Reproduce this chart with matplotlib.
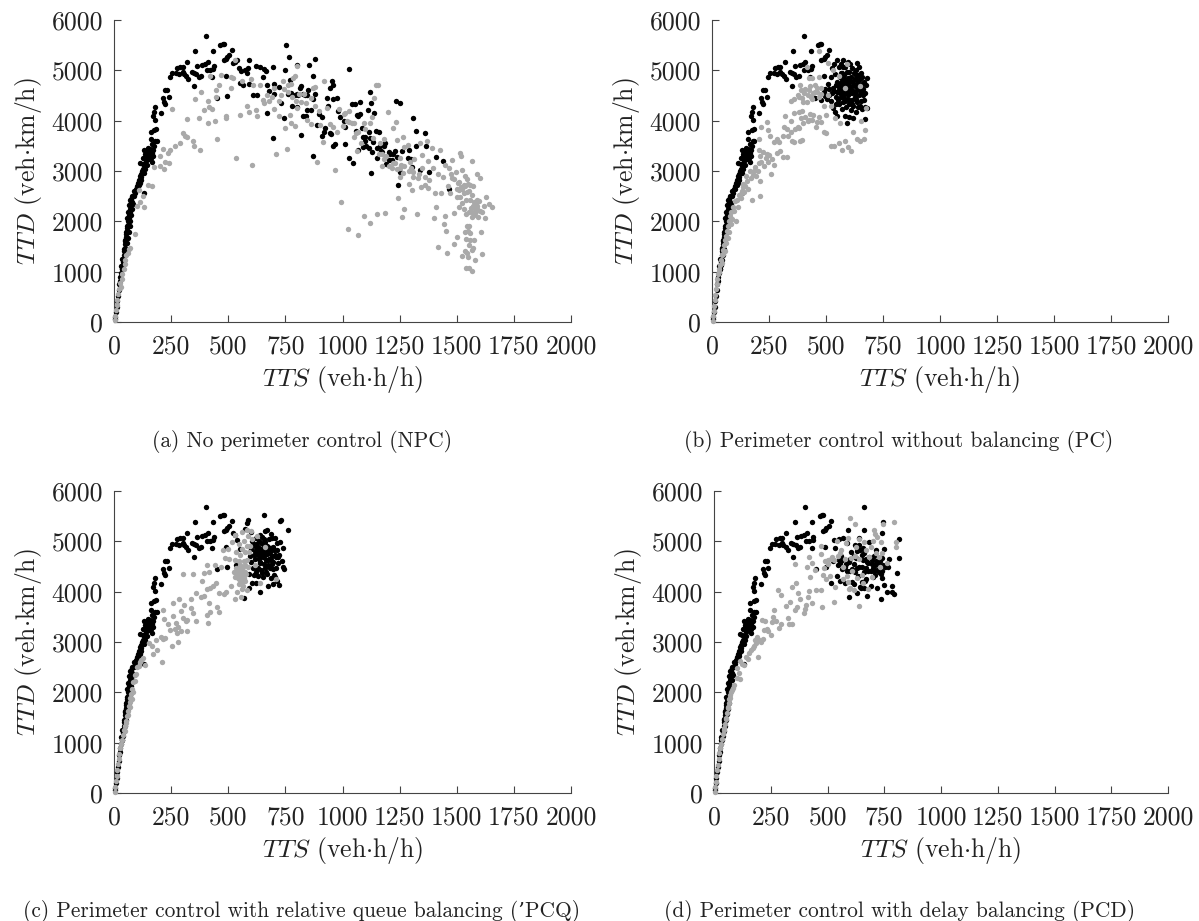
import numpy as np
import matplotlib
matplotlib.use("Agg")
import matplotlib.pyplot as plt

plt.rcParams["font.family"] = ["cmr10", "DejaVu Serif"]
plt.rcParams["mathtext.fontset"] = "cm"
plt.rcParams["axes.unicode_minus"] = False

XTICKS = [0, 250, 500, 750, 1000, 1250, 1500, 1750, 2000]
YTICKS = [0, 1000, 2000, 3000, 4000, 5000, 6000]
CAPTIONS = [
    "(a) No perimeter control (NPC)",
    "(b) Perimeter control without balancing (PC)",
    "(c) Perimeter control with relative queue balancing (\u2019PCQ)",
    "(d) Perimeter control with delay balancing (PCD)",
]

# black points shared by all four panels (the uncontrolled rising branch)
BASE_CURVE = [
    (3, 60), (5, 100), (8, 200), (11, 300), (14, 420), (17, 520), (20, 640), (23, 760), (25, 820), (28, 900),
    (30, 980), (33, 1050), (35, 1120), (38, 1200), (40, 1260), (42, 1340), (44, 1410), (46, 1480), (48, 1540),
    (50, 1610), (52, 1680), (54, 1750), (56, 1800), (58, 1870), (60, 1930), (62, 2000), (64, 2060), (66, 2120),
    (68, 2190), (70, 2250), (72, 2320), (74, 2380), (76, 2450), (80, 2500), (88, 2610), (95, 2640), (100, 2700),
    (105, 2760), (110, 2830), (113, 2900), (118, 2950), (122, 3000), (126, 3030), (115, 3150), (125, 3140),
    (133, 3120), (140, 3190), (128, 3260), (146, 3250), (150, 3300), (136, 3340), (142, 3400), (130, 3410),
    (155, 3340), (160, 3290), (165, 3360), (148, 3450), (158, 3440), (170, 3420), (172, 3300), (163, 3260),
    (168, 3530), (160, 3640), (178, 3590), (186, 3590), (175, 3500), (150, 3380), (138, 3300), (145, 3310),
    (152, 3420), (162, 3390), (120, 2880), (132, 2560), (108, 2730),
    (36, 1050), (40, 1130), (44, 1230), (48, 1330), (52, 1450), (56, 1560), (60, 1660), (64, 1780), (68, 1900),
    (72, 2000), (76, 2120), (80, 2240), (84, 2340), (32, 1120), (37, 1260), (42, 1450), (47, 1620), (51, 1780),
    (55, 1900), (59, 2060), (63, 2180), (67, 2320), (71, 2430), (78, 2380), (86, 2500), (92, 2560), (102, 2640),
    (112, 2760), (120, 2820), (130, 2960), (135, 3040), (143, 3120), (155, 3230), (165, 3180),
]
BASE_HUMP = [
    (403, 5690), (466, 5510), (475, 5520), (480, 5530), (356, 5390), (433, 5390), (515, 5400), (318, 5170),
    (410, 5170), (398, 5120), (385, 5110), (365, 5090), (437, 5080), (435, 5020), (405, 5010), (420, 5000),
    (290, 5060), (300, 5060), (275, 5050), (270, 4950), (285, 4930), (300, 4960), (305, 4930), (315, 4880),
    (325, 4820), (340, 4960), (350, 4950), (360, 4930), (370, 4870), (380, 4880), (350, 4690), (255, 4950),
    (245, 4860), (430, 4860), (490, 4880), (450, 4460), (495, 4490), (225, 4600), (232, 4600), (215, 4450),
    (240, 4470), (225, 4330), (220, 4380), (180, 4280), (175, 4170), (205, 4150), (170, 4090), (178, 4020),
    (185, 3830), (175, 3810), (160, 3780), (490, 5230), (480, 5200), (495, 5270), (505, 5310),
]

# panel (a) black points past the hump
NPC_BLACK = [
    (520, 5150), (530, 5170), (540, 5210), (545, 5040), (555, 4980), (575, 5010), (585, 5040), (590, 5210),
    (550, 4750), (565, 4700), (580, 4950), (590, 4720), (610, 4510), (625, 4500), (620, 5080), (640, 5060),
    (655, 5030), (665, 4990), (650, 4860), (670, 4700), (680, 4590), (700, 4530), (695, 5070), (700, 4720),
    (720, 4660), (730, 4360), (745, 4060), (695, 3650), (670, 4160), (750, 5000), (752, 5510), (765, 5260),
    (770, 4800), (775, 4550), (780, 4300), (800, 5110), (800, 4280), (805, 4500), (820, 3720), (825, 4090),
    (820, 4680), (840, 4090), (835, 4500), (850, 4600), (860, 4220), (855, 5100), (870, 4880), (870, 3290),
    (880, 5220), (880, 4520), (890, 3910), (895, 4130), (910, 4080), (920, 3770), (925, 3850), (930, 4450),
    (935, 4300), (945, 4640), (950, 3740), (960, 3490), (965, 3530), (955, 4790), (960, 4710), (975, 4450),
    (980, 4200), (990, 4080), (1005, 4000), (1010, 3540), (1010, 3870), (1030, 3250), (1030, 5020), (1040, 4330),
    (1055, 4340), (1045, 3150), (1075, 4130), (1075, 4380), (1060, 3800), (1070, 3410), (1090, 3480), (1085, 3860),
    (1100, 3680), (1105, 3500), (1110, 4210), (1115, 3770), (1120, 4560), (1125, 4360), (1125, 2960), (1120, 3650),
    (1130, 3370), (1140, 4150), (1145, 3800), (1150, 3250), (1160, 3780), (1165, 3500), (1170, 3400), (1185, 3560),
    (1190, 3130), (1205, 3370), (1220, 3340), (1235, 4390), (1250, 4350), (1250, 2980), (1245, 2720), (1260, 3400),
    (1290, 3420), (1300, 3230), (1305, 3070), (1310, 4060), (1320, 3800), (1320, 3500), (1340, 3010), (1360, 3750),
    (1365, 3500), (1380, 2980), (1410, 3270), (1440, 3190), (1465, 2650), (815, 4640), (790, 4510), (760, 4530),
    (845, 4220), (910, 3700), (1065, 4110), (1205, 3220), (1240, 3280), (1180, 3500), (1210, 3330),
    (1070, 4090), (1100, 3600), (1135, 3570), (1150, 3460), (1175, 3380), (1215, 3220), (1230, 3400), (1115, 3460),
    (945, 3760), (960, 4430), (870, 4440), (825, 4520), (845, 4510), (800, 4520), (1090, 3680), (1285, 3250),
]
NPC_GREY = [
    (3, 30), (6, 120), (9, 240), (12, 340), (15, 440), (18, 560), (22, 650), (26, 780), (30, 700), (33, 860),
    (37, 960), (42, 1060), (46, 1150), (50, 1240), (54, 1340), (60, 1380), (66, 1450), (72, 1480), (90, 1750),
    (100, 2300), (115, 2380), (130, 2280), (125, 2500), (110, 2620), (150, 2720), (165, 2700), (175, 3080),
    (200, 3090), (220, 3030), (225, 3170), (240, 3150), (200, 3300), (215, 3440), (235, 3350), (245, 3420),
    (268, 3490), (290, 3550), (300, 3760), (310, 3700), (320, 3670), (345, 3600), (350, 3500), (375, 3410),
    (255, 4230), (320, 4030), (370, 4060), (395, 4210), (410, 3960), (415, 4270), (430, 4230), (440, 4000),
    (445, 4610), (445, 4480), (355, 4430), (410, 4400), (450, 3630), (460, 4710), (490, 4100), (490, 4060),
    (510, 4640), (510, 4860), (535, 3260), (550, 4120), (580, 4290), (590, 4170), (605, 3120), (620, 4210),
    (625, 4100), (610, 4700), (655, 4360), (680, 4400), (700, 4240), (710, 3340), (720, 4090), (730, 4500),
    (750, 3850), (755, 3440), (760, 4560), (770, 4110), (775, 3960), (785, 4840), (790, 4880), (790, 3900),
    (800, 5090), (820, 4380), (840, 4350), (845, 4020), (860, 3940), (870, 4640), (890, 3180), (895, 4200),
    (920, 4790), (915, 3580), (930, 4260), (945, 3930), (965, 3010), (960, 3870), (975, 3780), (995, 2380),
    (1005, 4130), (1025, 1840), (1030, 4200), (1040, 3960), (1050, 3680), (1065, 3400), (1070, 1730),
    (1095, 2100), (1120, 1960), (1130, 4080), (1140, 4450), (1145, 4700), (1155, 4710), (1150, 2150),
    (1175, 3330), (1175, 3100), (1180, 3630), (1185, 2160), (1200, 4180), (1205, 3100), (1220, 3850), (1235, 3980),
    (1240, 3610), (1250, 3250), (1245, 2460), (1250, 2880), (1260, 2080), (1265, 3680), (1270, 2240), (1285, 3520),
    (1290, 2740), (1305, 2620), (1310, 2990), (1325, 2150), (1330, 2860), (1340, 3560), (1350, 3320), (1360, 2880),
    (1370, 3590), (1380, 2830), (1390, 3450), (1400, 2070), (1405, 2570), (1410, 2280), (1420, 1490), (1425, 3420),
    (1430, 2560), (1440, 2880), (1445, 1950), (1450, 2110), (1458, 1380), (1455, 1800), (1465, 3060), (1470, 2570),
    (1480, 3220), (1490, 2160), (1495, 2990), (1490, 1540), (1500, 1680), (1505, 2770), (1510, 2290), (1515, 3360),
    (1520, 3300), (1520, 2690), (1525, 1320), (1530, 2560), (1535, 1780), (1535, 1420), (1540, 1080), (1540, 2140),
    (1545, 2840), (1545, 1900), (1550, 1300), (1555, 2600), (1555, 1070), (1560, 1760), (1560, 2430), (1565, 1020),
    (1565, 3200), (1568, 1440), (1570, 2700), (1575, 1620), (1580, 2160), (1580, 1240), (1585, 2340), (1590, 2950),
    (1590, 2240), (1595, 2080), (1597, 2400), (1600, 2860), (1605, 1780), (1610, 2180), (1612, 1360), (1618, 2300),
    (1625, 2060), (1630, 2480), (1640, 2340), (1655, 2290), (1572, 2300), (1578, 2260), (1584, 2200), (1568, 2190),
    (1562, 2270), (1574, 2120), (1588, 2300), (1550, 2750), (1530, 2720), (1510, 2620), (1500, 2480), (1480, 2860),
    (1460, 2700), (1300, 3050), (1270, 3090), (1240, 3040), (1220, 3150), (1190, 3290), (1165, 3560), (1120, 3950),
    (1100, 3840), (1080, 3560), (1060, 3750), (1030, 3980), (1010, 4150), (880, 4300), (860, 4450), (830, 4520),
    (800, 4260), (780, 4470), (760, 4710), (740, 4780), (700, 4640), (670, 4500), (640, 4700), (600, 4820),
    (560, 4780), (530, 5200), (520, 4850), (470, 4900), (420, 4880), (380, 4560),
    (1510, 2780), (1525, 2640), (1535, 2700), (1545, 2580), (1560, 2720), (1515, 2480), (1522, 2360), (1532, 2250),
    (1542, 2420), (1552, 2180), (1565, 2080), (1555, 1900), (1548, 1800), (1540, 1640), (1560, 1620), (1570, 1480),
    (1555, 1520), (1545, 1380), (1575, 2380), (1590, 2420), (1600, 2200), (1565, 2520), (1535, 2900), (1525, 3020),
    (1500, 2640), (1490, 2840), (1475, 2950), (1450, 3120), (1420, 2950), (1395, 3060), (1375, 3200), (1350, 3060),
    (1335, 2950), (1315, 3230), (1295, 3180), (1270, 3480), (1250, 3060), (1230, 3160), (1215, 3060), (1180, 3230),
    (1160, 3340), (1135, 3650), (1095, 3950), (1070, 3780), (1050, 3950), (1020, 3990), (1000, 3900), (985, 4230),
    (900, 3910), (880, 4660), (810, 4530), (795, 4400), (775, 4720), (745, 4620), (720, 4400), (690, 4470),
    (650, 4420), (1360, 2720), (1375, 2660), (1345, 2690), (1310, 2880), (1290, 3000), (1265, 2960), (1255, 3120),
]

PC_BLACK = [
    (480, 4420), (490, 4560), (495, 4620), (505, 4440), (510, 4720), (515, 4510), (520, 4390), (520, 4860),
    (525, 5040), (530, 4640), (530, 4250), (535, 5130), (540, 4920), (540, 4170), (545, 4480), (548, 4770),
    (550, 5210), (550, 4090), (555, 4600), (555, 5060), (558, 4330), (560, 4860), (562, 4720), (565, 4480),
    (565, 5130), (568, 4230), (570, 4950), (570, 4620), (572, 4780), (575, 4380), (575, 5200), (578, 4700),
    (580, 4520), (580, 4900), (582, 4090), (585, 4640), (585, 5060), (588, 4280), (590, 3950), (590, 4800),
    (592, 4440), (595, 5160), (595, 4600), (598, 4720), (600, 4340), (600, 4960), (603, 4080), (605, 4540),
    (605, 5120), (608, 4660), (610, 4220), (610, 4860), (612, 4420), (615, 4760), (615, 5040), (618, 4580),
    (620, 4060), (620, 4300), (622, 4940), (625, 4480), (625, 4680), (628, 4820), (630, 4180), (632, 5000),
    (635, 4380), (635, 4600), (638, 5140), (640, 4900), (640, 4750), (642, 4280), (645, 4500), (645, 5060),
    (648, 4660), (650, 4820), (652, 4400), (655, 4940), (655, 4560), (658, 4720), (660, 4240), (660, 4860),
    (663, 4620), (665, 4420), (668, 4760), (670, 4030), (670, 4280), (672, 4540), (675, 4700), (678, 4250),
    (680, 4840), (558, 4660), (548, 4560), (572, 4560), (585, 4720), (595, 4500), (605, 4780), (568, 4840),
    (535, 4580), (542, 4700), (552, 4420), (560, 4540), (566, 4640), (574, 4480), (578, 4830), (582, 4400),
    (588, 4560), (592, 4680), (598, 4850), (602, 4420), (606, 4620), (612, 4540), (616, 4340), (622, 4730),
    (628, 4540), (632, 4440), (636, 4800), (644, 4620), (650, 4300), (654, 4670), (662, 4510), (630, 4900),
    (590, 4960), (574, 5060), (564, 4950), (544, 4340), (525, 4540), (512, 4630),
]
PC_GREY = [
    (3, 20), (5, 120), (7, 220), (9, 320), (12, 430), (15, 540), (18, 650), (21, 760), (24, 860), (28, 950),
    (32, 1050), (36, 1140), (40, 1240), (44, 1340), (48, 1440), (52, 1530), (56, 1620), (60, 1700), (64, 1800),
    (58, 1420), (70, 1900), (75, 2000), (80, 2100), (85, 2180), (90, 2280), (105, 2000), (115, 2280), (100, 2400),
    (125, 2550), (130, 2600), (135, 2750), (140, 2580), (145, 2710), (150, 2900), (165, 3000), (175, 2430),
    (180, 2920), (190, 3080), (200, 3000), (205, 3160), (210, 2510), (210, 2800), (212, 3300), (205, 3420),
    (225, 3370), (235, 3250), (245, 3180), (250, 3320), (260, 2950), (270, 3120), (285, 3350), (300, 3400),
    (310, 3280), (330, 3270), (205, 3640), (215, 3880), (240, 3970), (245, 3820), (255, 3700), (270, 3570),
    (285, 3640), (295, 3580), (310, 3700), (315, 3880), (320, 4100), (330, 3840), (345, 3780), (350, 3600),
    (360, 3580), (380, 3860), (385, 3600), (395, 3620), (345, 4000), (360, 4160), (380, 4170), (395, 4190),
    (410, 4070), (420, 3990), (430, 4130), (440, 4020), (455, 3880), (470, 4080), (480, 3980), (490, 3780),
    (500, 3760), (520, 3490), (535, 3500), (555, 3560), (570, 3420), (585, 3600), (595, 3480), (610, 3400),
    (620, 3780), (635, 3640), (650, 3600), (665, 3640), (670, 3820), (655, 4000), (345, 4400), (360, 4430),
    (375, 4500), (385, 4700), (395, 4450), (405, 4550), (415, 4380), (425, 4600), (435, 4470), (440, 4850),
    (450, 4700), (460, 4560), (470, 4860), (480, 4640), (490, 4300), (500, 4110), (510, 4500), (520, 4300),
    (470, 5380), (510, 5150), (530, 5000), (555, 4880), (585, 4640), (590, 5130), (650, 4690), (675, 4260),
    (415, 5060), (425, 4850), (445, 4540), (540, 4060), (560, 3950),
    (30, 1000), (42, 1180), (50, 1350), (62, 1560), (68, 1660), (74, 1780), (82, 1940), (88, 2050), (96, 2200),
    (108, 2420), (118, 2520), (128, 2460), (138, 2680), (155, 2800), (160, 2650), (170, 2860), (185, 3000),
    (195, 2900), (215, 3180), (228, 3100), (240, 3340), (265, 3240), (380, 4480), (390, 4600), (400, 4380),
    (410, 4620), (420, 4500), (430, 4680), (440, 4440), (450, 4560), (460, 4640), (470, 4480), (480, 4520),
    (400, 3960), (425, 4020), (445, 4120), (460, 3980), (390, 4050), (375, 3880), (365, 3830), (335, 3700),
]

PCQ_BLACK = [
    (520, 5170), (530, 5130), (535, 4520), (540, 5020), (550, 4840), (555, 4200), (560, 4270), (570, 3880),
    (575, 5240), (580, 5360), (585, 5420), (590, 4080), (590, 4360), (595, 4700), (600, 5180), (605, 4180),
    (610, 4950), (612, 4340), (615, 4640), (618, 4800), (620, 5060), (622, 4180), (625, 4460), (628, 4900),
    (630, 4720), (632, 4320), (635, 5000), (638, 4580), (640, 3990), (642, 4820), (645, 4430), (648, 5090),
    (650, 4680), (652, 4300), (655, 5530), (655, 4950), (658, 4540), (660, 5210), (662, 4780), (665, 4400),
    (668, 4900), (670, 5220), (672, 4620), (675, 4110), (678, 4760), (680, 5040), (682, 4480), (685, 4860),
    (688, 4280), (690, 4700), (692, 5070), (695, 4150), (698, 4580), (700, 4830), (702, 4340), (705, 5070),
    (708, 4470), (710, 4680), (712, 4220), (715, 4960), (718, 4560), (720, 4720), (722, 4140), (725, 4980),
    (725, 5410), (730, 5420), (735, 4600), (740, 4870), (740, 4490), (745, 4460), (760, 5220), (600, 4580),
    (615, 4900), (640, 4700), (660, 4860), (680, 4640), (630, 4860), (650, 4780), (670, 4830), (690, 4540),
    (705, 4300), (640, 4560),
    (600, 4840), (605, 5000), (612, 4720), (622, 4950), (626, 4780), (634, 4640), (636, 4860), (644, 4960),
    (646, 4760), (652, 4870), (656, 4700), (662, 4980), (664, 4620), (668, 4740), (674, 4880), (676, 4520),
    (684, 4780), (686, 4620), (694, 4880), (696, 4460), (704, 4720), (712, 4820), (716, 4680), (632, 4480),
    (648, 4380), (660, 4480), (620, 4400), (610, 4480), (670, 4360), (655, 5050), (640, 5120), (685, 5140),
]
PCQ_GREY = [
    (3, 20), (5, 110), (8, 230), (11, 340), (14, 460), (17, 570), (20, 680), (24, 780), (28, 900), (32, 980),
    (36, 1060), (40, 1160), (44, 1260), (48, 1340), (52, 1430), (56, 1520), (60, 1620), (64, 1720), (68, 1810),
    (72, 1880), (76, 1970), (80, 2060), (85, 2200), (90, 2350), (100, 2500), (108, 2520), (120, 2640), (135, 2550),
    (155, 2980), (165, 2920), (170, 2770), (185, 3030), (190, 2850), (210, 2600), (205, 3100), (215, 3050),
    (225, 3080), (220, 3450), (215, 3640), (235, 3350), (245, 3230), (255, 2930), (260, 3520), (260, 3780),
    (265, 3260), (270, 3380), (275, 3180), (280, 3000), (280, 3300), (285, 3860), (295, 3210), (295, 3620),
    (300, 3470), (305, 3730), (315, 3420), (320, 3430), (320, 3210), (335, 3860), (335, 3680), (345, 3570),
    (360, 3420), (360, 3980), (380, 3890), (395, 3920), (405, 3530), (410, 3380), (415, 3780), (420, 3600),
    (405, 4060), (420, 4080), (300, 4360), (345, 4350), (385, 4220), (395, 4380), (405, 4530), (415, 4390),
    (440, 4530), (445, 4180), (435, 4110), (450, 3690), (460, 3590), (460, 3980), (480, 3960), (490, 3990),
    (470, 4500), (485, 4660), (475, 4820), (505, 4640), (510, 4120), (530, 3850), (540, 4000), (555, 3900),
    (580, 4040), (500, 4850), (515, 4980), (530, 5130), (545, 4950), (560, 5180), (580, 5230), (600, 5200),
    (625, 5100), (660, 4890), (615, 4520), (525, 4400), (530, 4300), (535, 4480), (540, 4350), (545, 4420),
    (548, 4260), (552, 4520), (555, 4370), (558, 4200), (562, 4450), (565, 4310), (568, 4600), (572, 4400),
    (575, 4780), (575, 4220), (580, 4900), (585, 4500), (550, 4720), (560, 4060), (710, 4260), (640, 4180),
    (46, 1240), (54, 1400), (62, 1540), (70, 1700), (78, 1860), (84, 2000), (92, 2220), (96, 2360), (112, 2600),
    (128, 2680), (538, 4420), (542, 4280), (546, 4480), (550, 4340), (554, 4440), (556, 4260), (560, 4400),
    (564, 4500), (570, 4280), (574, 4520), (578, 4360), (582, 4620), (590, 4780), (595, 4900), (605, 5050),
    (528, 4620), (536, 4780), (548, 4600), (560, 4850), (570, 5000), (585, 5100), (565, 4120), (545, 4150),
]

PCD_BLACK = [
    (515, 4180), (525, 4600), (530, 5020), (535, 4860), (540, 4320), (545, 4530), (550, 5040), (555, 4220),
    (560, 4700), (565, 4460), (570, 5060), (575, 4170), (580, 4550), (585, 4960), (590, 5230), (595, 3900),
    (600, 4420), (605, 4780), (610, 4200), (615, 4540), (620, 4920), (625, 4660), (630, 3980), (635, 4320),
    (640, 5060), (645, 4100), (650, 4500), (655, 4860), (660, 5230), (660, 5690), (665, 4220), (670, 4640),
    (675, 3920), (680, 4420), (685, 4980), (690, 4120), (695, 4540), (700, 4300), (705, 4700), (710, 4520),
    (715, 4820), (720, 4080), (725, 4400), (730, 4600), (735, 3860), (740, 5170), (740, 4280), (745, 5380),
    (745, 4520), (750, 4840), (750, 4130), (755, 4500), (760, 3990), (770, 4640), (785, 3990), (785, 4120),
    (795, 3960), (805, 4370), (815, 4660), (815, 5040), (640, 4500), (660, 4400), (680, 4560), (700, 4480),
    (720, 4540), (600, 4650), (620, 4400), (650, 4720), (670, 4260), (710, 4330), (575, 4500), (550, 4620),
    (555, 4560), (565, 4620), (585, 4420), (595, 4580), (608, 4460), (618, 4700), (628, 4860), (632, 4480),
    (644, 4820), (648, 4080), (656, 4620), (662, 4760), (668, 4480), (675, 4580), (682, 4680), (690, 4420),
    (698, 4620), (706, 4420), (712, 4600), (718, 4440), (726, 4520), (734, 4360), (738, 4660), (742, 4420),
    (765, 4500), (630, 4800), (640, 4920), (650, 4200), (660, 4080), (615, 4160),
]
PCD_GREY = [
    (3, 20), (5, 110), (8, 220), (11, 340), (14, 450), (17, 560), (20, 680), (24, 800), (28, 900), (32, 980),
    (36, 1080), (40, 1180), (44, 1260), (48, 1380), (52, 1480), (56, 1580), (60, 1680), (64, 1780), (68, 1860),
    (72, 1940), (80, 2040), (90, 2150), (100, 2280), (115, 2260), (100, 2480), (115, 2620), (130, 2540),
    (140, 2700), (155, 2780), (165, 2850), (175, 2920), (185, 2980), (195, 2710), (200, 3040), (215, 3050),
    (190, 3100), (210, 3440), (225, 3420), (235, 3250), (250, 3130), (260, 3500), (265, 3640), (275, 3420),
    (285, 3280), (295, 3350), (315, 3720), (325, 3480), (330, 3360), (345, 3350), (280, 4040), (295, 3940),
    (335, 3790), (355, 3630), (365, 3690), (370, 3970), (380, 3860), (395, 3580), (405, 3740), (415, 3900),
    (420, 4010), (430, 3770), (360, 4170), (355, 4550), (410, 4490), (420, 4680), (425, 4300), (430, 4570),
    (450, 4040), (470, 4040), (475, 3690), (480, 4330), (470, 4740), (470, 4900), (490, 4600), (495, 4260),
    (510, 4320), (520, 4680), (530, 3800), (535, 4100), (540, 5000), (555, 4770), (570, 4260), (580, 4960),
    (590, 5060), (595, 4050), (600, 5470), (605, 4660), (615, 4040), (620, 5350), (625, 4880), (640, 3710),
    (640, 5050), (650, 4340), (660, 4980), (680, 4050), (690, 4880), (700, 5000), (705, 5220), (715, 4760),
    (720, 5080), (730, 4500), (740, 4770), (745, 5340), (760, 4560), (795, 5390), (800, 4990), (800, 4880),
    (640, 4640), (685, 4680), (610, 4420), (570, 4500),
    (46, 1300), (54, 1500), (62, 1700), (70, 1880), (76, 2000), (85, 2080), (108, 2380), (122, 2560), (148, 2660),
    (170, 2880), (180, 3030), (205, 3000), (220, 3230), (240, 3220), (255, 3400), (500, 4620), (515, 4640),
    (530, 4620), (545, 4700), (560, 4820), (575, 4640), (590, 4200), (600, 4080), (620, 4700), (630, 4280),
    (655, 4180), (670, 4820), (695, 4300), (710, 5150), (725, 4680), (735, 4980), (585, 4320), (500, 4540),
    (485, 4470), (445, 4440), (400, 3650), (345, 4090),
]

SERIES = [
    (NPC_BLACK, NPC_GREY),
    (PC_BLACK, PC_GREY),
    (PCQ_BLACK, PCQ_GREY),
    (PCD_BLACK, PCD_GREY),
]

FIG_W, FIG_H = 1199, 921
# axes box in pixels: left, right, top, bottom
BOXES = [(114, 571, 20, 322), (712, 1168, 20, 322), (114, 571, 491, 793), (714, 1168, 491, 793)]
# caption centre in pixels
CAPTION_POS = [(302, 441), (899, 441), (302, 911), (900, 911)]

fig = plt.figure(figsize=(FIG_W / 100, FIG_H / 100), dpi=100)

for (black, grey), box, caption, cap_pos in zip(SERIES, BOXES, CAPTIONS, CAPTION_POS):
    left, right, top, bottom = box
    ax = fig.add_axes([left / FIG_W, 1 - bottom / FIG_H, (right - left) / FIG_W, (bottom - top) / FIG_H])
    bx, by = np.array(BASE_CURVE + BASE_HUMP + black).T
    gx, gy = np.array(grey).T
    ax.scatter(bx, by, s=15, c="black", linewidths=0, clip_on=False, zorder=3)
    ax.scatter(gx, gy, s=15, c="#a9a9a9", linewidths=0, clip_on=False, zorder=4)

    ax.set_xlim(0, 2000)
    ax.set_ylim(0, 6000)
    ax.set_xticks(XTICKS)
    ax.set_yticks(YTICKS)
    ax.spines[["top", "right"]].set_visible(False)
    ax.spines[["left", "bottom"]].set_linewidth(0.8)
    ax.spines[["left", "bottom"]].set_color("#444444")
    ax.tick_params(direction="in", length=5, width=0.8, color="#444444", labelsize=18.5,
                   labelcolor="#222222")
    ax.tick_params(axis="x", pad=9)
    ax.tick_params(axis="y", pad=8)
    ax.set_xlabel(r"$TTS$ (veh$\cdot$h/h)", fontsize=18.5, color="#222222", labelpad=4)
    ax.set_ylabel(r"$TTD$ (veh$\cdot$km/h)", fontsize=18.5, color="#222222", labelpad=5)
    fig.text(cap_pos[0] / FIG_W, 1 - cap_pos[1] / FIG_H, caption, fontsize=15.4, color="#222222",
             ha="center", va="center")

fig.savefig("out.png", dpi=100)
